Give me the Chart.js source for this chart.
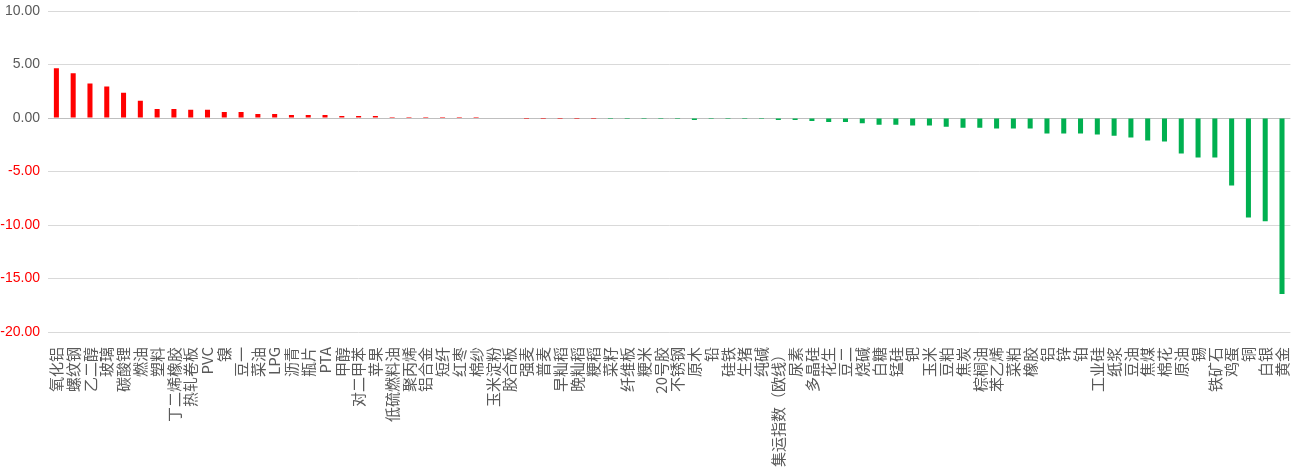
<!DOCTYPE html>
<html><head><meta charset="utf-8">
<script src="https://cdn.jsdelivr.net/npm/chart.js@4.4.1/dist/chart.umd.min.js"></script>
<style>html,body{margin:0;padding:0;background:#fff;overflow:hidden}#wrap{width:1297px;height:473px}</style>
</head><body><div id="wrap"><canvas id="c" width="1297" height="473"></canvas></div>
<script>
const categories = ['氧化铝','螺纹钢','乙二醇','玻璃','碳酸锂','燃油','塑料','丁二烯橡胶','热轧卷板','PVC',
  '镍','豆一','菜油','LPG','沥青','瓶片','PTA','甲醇','对二甲苯','苹果',
  '低硫燃料油','聚丙烯','铝合金','短纤','红枣','棉纱','玉米淀粉','胶合板','强麦','普麦',
  '早籼稻','晚籼稻','粳稻','菜籽','纤维板','粳米','20号胶','不锈钢','原木','铅',
  '硅铁','生猪','纯碱','集运指数（欧线）','尿素','多晶硅','花生','豆二','烧碱','白糖',
  '锰硅','钯','玉米','豆粕','焦炭','棕榈油','苯乙烯','菜粕','橡胶','铝',
  '锌','铂','工业硅','纸浆','豆油','焦煤','棉花','原油','锡','铁矿石',
  '鸡蛋','铜','白银','黄金'];
const values = [4.65,4.18,3.23,2.94,2.37,1.61,0.85,0.85,0.76,0.76,
  0.57,0.57,0.38,0.38,0.28,0.28,0.28,0.19,0.19,0.19,
  0.10,0.10,0.10,0.10,0.10,0.10,0,0,-0.10,-0.10,
  -0.10,-0.10,-0.10,-0.10,-0.10,-0.10,-0.10,-0.10,-0.19,-0.10,
  -0.10,-0.10,-0.10,-0.19,-0.19,-0.28,-0.38,-0.38,-0.50,-0.62,
  -0.62,-0.71,-0.71,-0.81,-0.90,-0.90,-0.99,-0.99,-0.99,-1.46,
  -1.46,-1.46,-1.55,-1.65,-1.83,-2.11,-2.20,-3.32,-3.70,-3.70,
  -6.30,-9.29,-9.66,-16.46];
const lastRedCategory = '粳稻';
const yTickValues = [10,5,0,-5,-10,-15,-20];

const RED = '#ff0000', GREEN = '#00b050';
const redLimit = categories.indexOf(lastRedCategory);

new Chart(document.getElementById('c'), {
  type: 'bar',
  data: {
    labels: categories,
    datasets: [{
      data: values,
      backgroundColor: ctx => ctx.dataIndex <= redLimit ? RED : GREEN,
      barPercentage: 0.3,
      categoryPercentage: 1.0,
      borderWidth: 0
    }]
  },
  options: {
    responsive: false,
    animation: false,
    devicePixelRatio: 1,
    layout: { padding: { top: 11, right: 6.6, left: 0, bottom: 0 } },
    plugins: { legend: { display: false }, tooltip: { enabled: false } },
    scales: {
      x: {
        grid: { display: false },
        border: { display: false },
        ticks: {
          autoSkip: false, maxRotation: 90, minRotation: 90, padding: 7,
          color: '#595959',
          font: { family: "'Noto Sans CJK SC', sans-serif", size: 15 }
        },
        afterFit: s => { s.height = 141; s.paddingLeft = 0; s.paddingRight = 0; }
      },
      y: {
        min: Math.min(...yTickValues), max: Math.max(...yTickValues),
        afterBuildTicks: s => { s.ticks = yTickValues.map(v => ({ value: v })); },
        grid: {
          color: ctx => ctx.tick && ctx.tick.value === 0 ? '#bfbfbf' : '#d9d9d9',
          lineWidth: 1, drawTicks: false
        },
        border: { display: false },
        ticks: {
          padding: 8,
          color: ctx => ctx.tick && ctx.tick.value < 0 ? RED : '#595959',
          font: { family: "'Liberation Sans', sans-serif", size: 14 },
          callback: v => Number(v).toFixed(2)
        },
        afterFit: s => { s.width = 48; s.paddingTop = 0; s.paddingBottom = 0; }
      }
    }
  }
});
</script></body></html>
